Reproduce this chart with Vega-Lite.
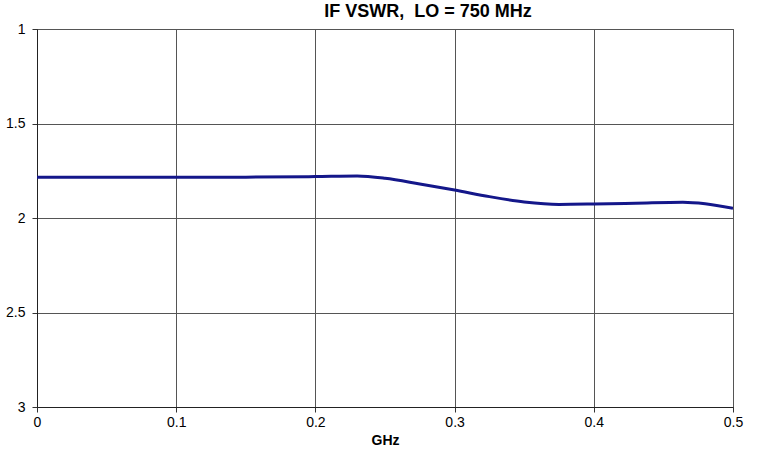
{
  "$schema": "https://vega.github.io/schema/vega-lite/v6.json",
  "width": 696,
  "height": 378,
  "autosize": {"type": "none"},
  "padding": {"left": 37, "top": 29, "right": 25, "bottom": 47},
  "background": "white",
  "config": {
    "view": {"stroke": "#555555", "strokeWidth": 1},
    "font": "Liberation Sans"
  },
  "title": {
    "text": "IF VSWR,\u00a0 LO = 750 MHz",
    "anchor": "middle",
    "dx": 43,
    "offset": 1,
    "font": "Liberation Sans",
    "fontSize": 18,
    "fontWeight": "bold",
    "color": "#000000"
  },
  "data": {
    "values": [
      {"ghz": 0.0, "vswr": 1.784},
      {"ghz": 0.05, "vswr": 1.784},
      {"ghz": 0.1, "vswr": 1.784},
      {"ghz": 0.15, "vswr": 1.784},
      {"ghz": 0.2, "vswr": 1.781},
      {"ghz": 0.23, "vswr": 1.778},
      {"ghz": 0.25, "vswr": 1.79},
      {"ghz": 0.275, "vswr": 1.82},
      {"ghz": 0.3, "vswr": 1.852},
      {"ghz": 0.325, "vswr": 1.887},
      {"ghz": 0.35, "vswr": 1.915},
      {"ghz": 0.375, "vswr": 1.928},
      {"ghz": 0.4, "vswr": 1.926},
      {"ghz": 0.43, "vswr": 1.922},
      {"ghz": 0.464, "vswr": 1.917},
      {"ghz": 0.48, "vswr": 1.925},
      {"ghz": 0.5, "vswr": 1.949}
    ]
  },
  "mark": {"type": "line", "color": "#14178a", "strokeWidth": 3, "interpolate": "monotone", "clip": true},
  "encoding": {
    "x": {
      "field": "ghz",
      "type": "quantitative",
      "scale": {"domain": [0, 0.5], "nice": false, "zero": false},
      "axis": {
        "values": [0, 0.1, 0.2, 0.3, 0.4, 0.5],
        "format": "~g",
        "title": "GHz",
        "titleFont": "Liberation Sans",
        "titleFontSize": 14,
        "titleFontWeight": "bold",
        "titleColor": "#000000",
        "titlePadding": 4,
        "labelFont": "Liberation Sans",
        "labelFontSize": 14,
        "labelColor": "#000000",
        "labelPadding": 3,
        "labelFlush": false,
        "tickSize": 5,
        "tickColor": "#333333",
        "domainColor": "#222222",
        "gridColor": "#555555",
        "gridOpacity": 1,
        "grid": true
      }
    },
    "y": {
      "field": "vswr",
      "type": "quantitative",
      "scale": {"domain": [1, 3], "reverse": true, "nice": false, "zero": false},
      "axis": {
        "values": [1, 1.5, 2, 2.5, 3],
        "format": "~g",
        "title": null,
        "labelFont": "Liberation Sans",
        "labelFontSize": 14,
        "labelColor": "#000000",
        "labelPadding": 7,
        "labelFlush": false,
        "tickSize": 5,
        "tickColor": "#333333",
        "domainColor": "#222222",
        "gridColor": "#555555",
        "gridOpacity": 1,
        "grid": true
      }
    }
  }
}
